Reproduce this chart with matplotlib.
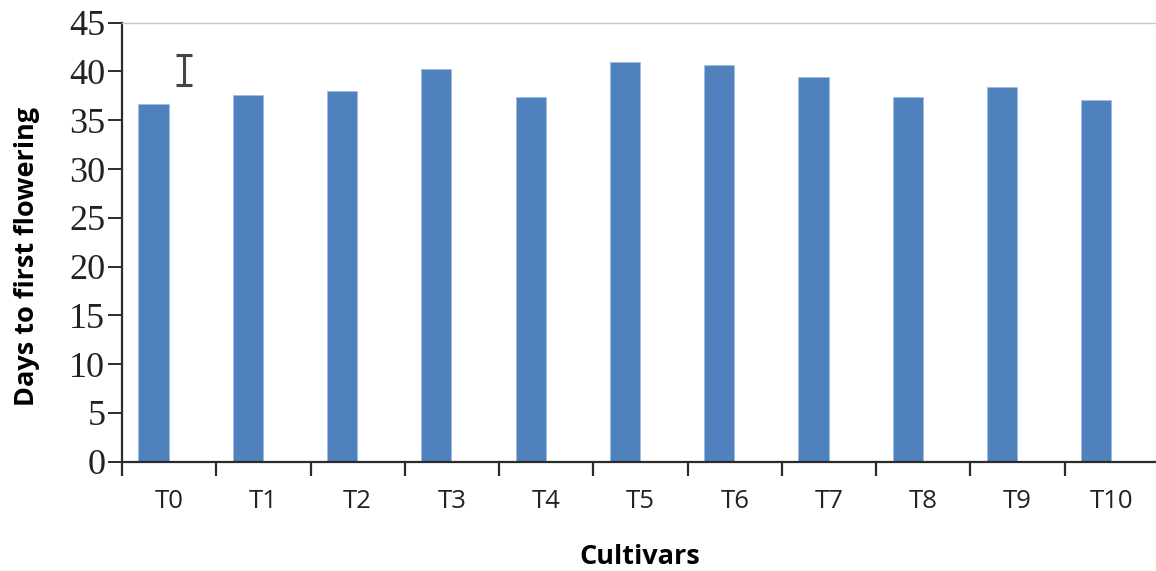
#!/usr/bin/env python3

import numpy as np
import matplotlib
matplotlib.use("Agg")
import matplotlib.pyplot as plt

# =========================
# DATA
# =========================
CULTIVARS = ["T0", "T1", "T2", "T3", "T4", "T5", "T6", "T7", "T8", "T9", "T10"]
DAYS = [36.7, 37.6, 38.0, 40.3, 37.4, 41.0, 40.7, 39.4, 37.4, 38.4, 37.1]
CD_VALUE = 40.15
CD_ERR = 1.55
Y_TICKS = [0, 5, 10, 15, 20, 25, 30, 35, 40, 45]

BAR_COLOR = "#4F81BD"
AXIS_COLOR = "#2b2b2b"


def main():
    fig = plt.figure(figsize=(11.56, 5.71), dpi=100)
    ax = fig.add_axes([122 / 1156, 1 - 461.7 / 571, 1037 / 1156, 439 / 571])

    x = np.arange(len(CULTIVARS))
    ax.bar(x - 0.165, DAYS, width=0.32, color=BAR_COLOR,
           edgecolor="#9fbde0", linewidth=0.6, zorder=2)

    # CD error bar drawn next to the first cultivar
    ax.errorbar([0.16], [CD_VALUE], yerr=[CD_ERR], fmt="none",
                ecolor="#444444", elinewidth=2.2, capsize=6, capthick=2.2,
                zorder=3)

    ax.set_xlim(-0.5, 10.5)
    ax.set_ylim(0, 45)

    # axis styling
    ax.spines["right"].set_visible(False)
    ax.spines["top"].set_color("#c8c8c8")
    ax.spines["top"].set_linewidth(1.0)
    for s in ("left", "bottom"):
        ax.spines[s].set_color(AXIS_COLOR)
        ax.spines[s].set_linewidth(1.6)

    ax.set_yticks(Y_TICKS)
    ax.set_yticklabels([str(v) for v in Y_TICKS],
                       fontfamily="Liberation Serif", fontsize=26,
                       color="#222222")
    ax.tick_params(axis="y", direction="out", length=10, width=1.4,
                   color=AXIS_COLOR, pad=2)

    ax.set_xticks(x)
    ax.set_xticklabels(CULTIVARS, fontfamily="Open Sans", fontsize=18.5,
                       color="#222222")
    ax.set_xticks(np.arange(-0.5, 11.0, 1.0), minor=True)
    ax.tick_params(axis="x", which="major", length=0, pad=20)
    ax.tick_params(axis="x", which="minor", direction="out", length=10,
                   width=1.6, color=AXIS_COLOR)

    fig.text(27 / 1156, 1 - 256 / 571, "Days to first flowering",
             rotation=90, ha="center", va="center",
             fontfamily="Open Sans", fontweight="bold", fontsize=19.5)
    fig.text(640 / 1156, 1 - 557 / 571, "Cultivars",
             ha="center", va="center",
             fontfamily="Open Sans", fontweight="bold", fontsize=19.5)

    fig.savefig("out.png", dpi=100, facecolor="white")


if __name__ == "__main__":
    main()
